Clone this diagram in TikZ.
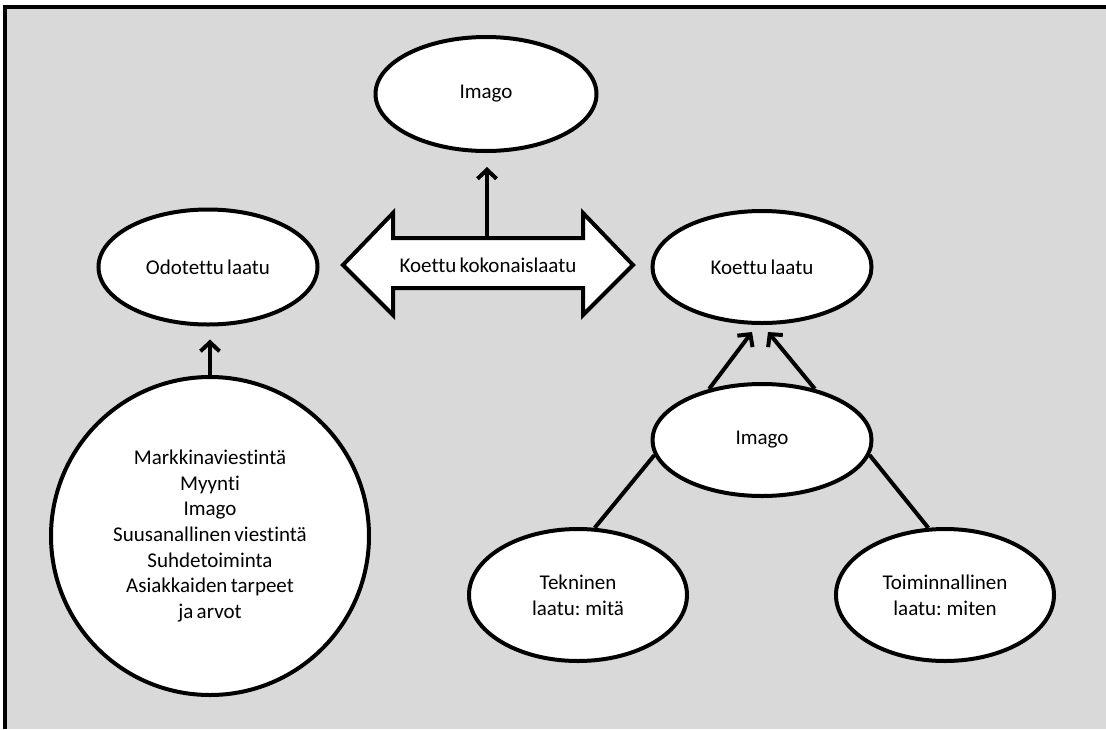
\documentclass[tikz,border=0pt]{standalone}
\usepackage{fontspec}
\setmainfont{Carlito}[Ligatures=NoCommon, WordSpace=0.7]
\usetikzlibrary{arrows.meta,shapes.geometric}
\definecolor{panelgray}{HTML}{D9D9D9}

\begin{document}
\begin{tikzpicture}[x=1pt,y=-1pt,
  labeltext/.style={font=\fontsize{21}{25.7}\selectfont, align=center},
  oval/.style={ellipse, draw=black, line width=4pt, fill=white, inner sep=0pt, labeltext},
  link/.style={line width=4pt},
  pointer/.style={line width=4pt, -{Straight Barb[length=9pt,width=19pt]}},
]
\useasboundingbox (0,0) rectangle (1106,729);

% panel with its frame on the left and top
\fill[panelgray] (5,7) rectangle (1106,729);
\draw[line width=3.5pt] (5,729) -- (5,7) -- (1106,7);

% quality concepts
\node[oval, minimum width=221pt, minimum height=114pt] (imagotop) at (486,94) {Imago};
\node[oval, minimum width=219pt, minimum height=115pt] (odotettu) at (208,267) {Odotettu laatu};
\node[oval, minimum width=219pt, minimum height=112pt] (koettu) at (762,267) {Koettu laatu};
\node[oval, minimum width=219pt, minimum height=112pt] (imagomid) at (762,440) {Imago};
\node[oval, minimum width=218pt, minimum height=132pt] (tekninen) at (578,595) {Tekninen\\laatu: mitä};
\node[oval, minimum width=218pt, minimum height=132pt] (toim) at (945,595) {Toiminnallinen\\laatu: miten};
\node[circle, draw=black, line width=4pt, fill=white, inner sep=0pt, minimum size=318pt, labeltext]
  (sources) at (210,536)
  {Markkinaviestintä\\Myynti\\Imago\\Suusanallinen viestintä\\Suhdetoiminta\\Asiakkaiden tarpeet\\ja arvot};

% double-headed block arrow for total perceived quality
\draw[line width=4pt, fill=white, line join=miter]
  (343,265) -- (393,213) -- (393,238) -- (583,238) -- (583,213) -- (633,265)
  -- (583,315) -- (583,288) -- (393,288) -- (393,315) -- cycle;
\node[labeltext] (total) at (488,265) {Koettu kokonaislaatu};
\coordinate (shafttop) at (487,238);

% connectors
\draw[pointer, shorten >=14pt] (shafttop) -- (shafttop |- imagotop.south);
\draw[pointer, shorten >=13pt] (sources.north) -- (sources.north |- odotettu.south);

\coordinate (tipL) at (752,332);
\coordinate (tipR) at (768,332);
\draw[pointer] (imagomid.136) -- (tipL);
\draw[pointer] (imagomid.44) -- (tipR);

\draw[link] (imagomid.188) -- (tekninen.76);
\draw[link] (imagomid.352) -- (toim.104);
\end{tikzpicture}
\end{document}
